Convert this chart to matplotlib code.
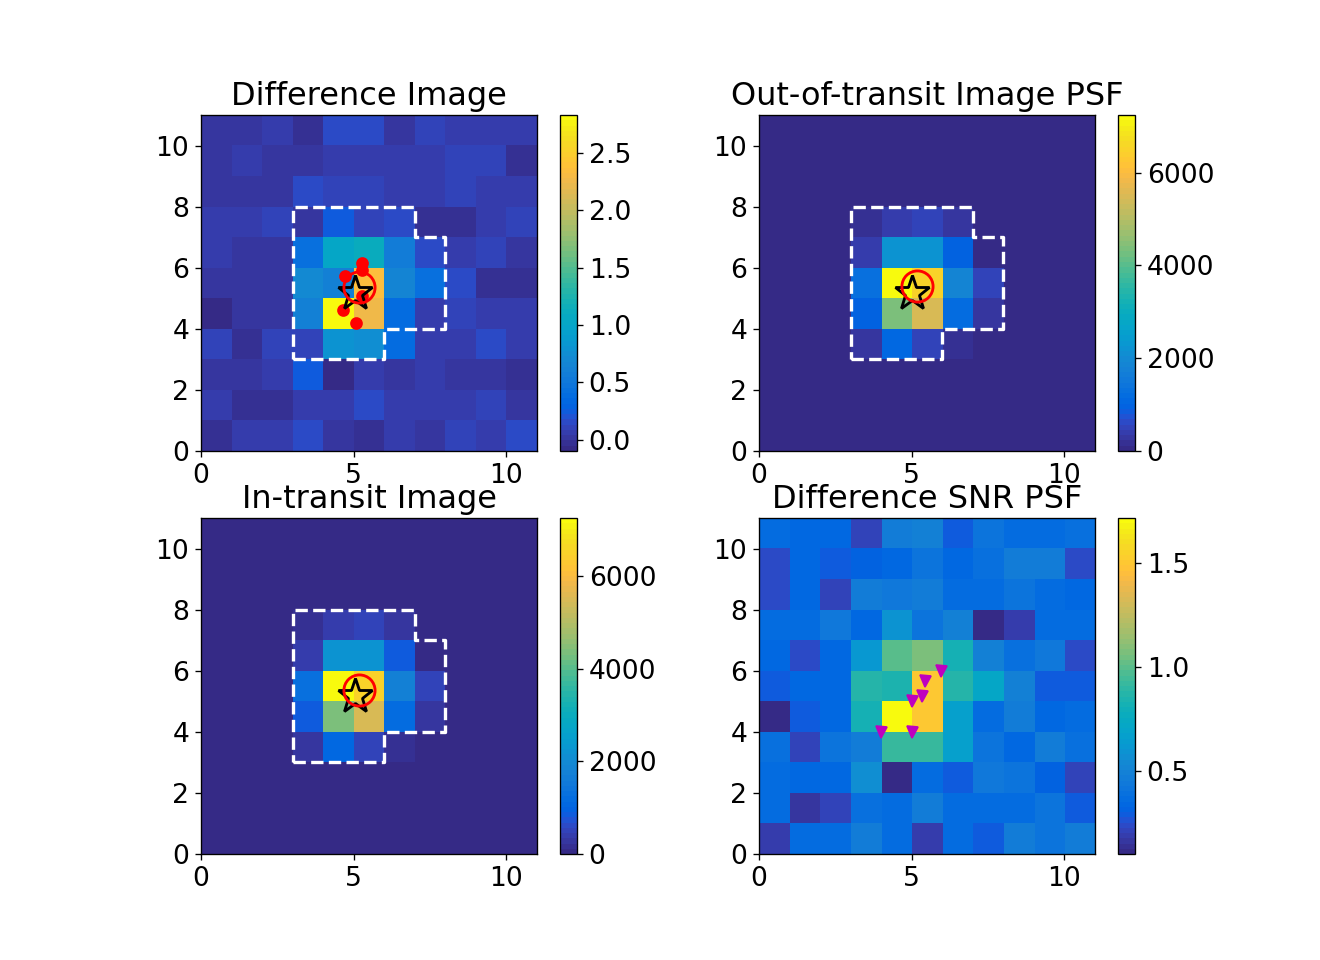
import numpy as np
import matplotlib
matplotlib.use('Agg')
import matplotlib.pyplot as plt
from matplotlib.colors import ListedColormap

# parula, 64 levels
parula = ListedColormap([
    [0.2081,0.1663,0.5292],[0.2116,0.1898,0.5777],[0.2123,0.2138,0.6270],[0.2081,0.2386,0.6771],
    [0.1959,0.2643,0.7279],[0.1707,0.2919,0.7792],[0.1253,0.3242,0.8303],[0.0591,0.3598,0.8683],
    [0.0117,0.3875,0.8820],[0.0060,0.4086,0.8828],[0.0165,0.4266,0.8786],[0.0329,0.4430,0.8720],
    [0.0498,0.4586,0.8641],[0.0629,0.4737,0.8554],[0.0723,0.4887,0.8467],[0.0779,0.5040,0.8384],
    [0.0793,0.5200,0.8312],[0.0749,0.5375,0.8263],[0.0641,0.5570,0.8240],[0.0488,0.5772,0.8228],
    [0.0343,0.5966,0.8199],[0.0265,0.6137,0.8135],[0.0239,0.6287,0.8038],[0.0231,0.6418,0.7913],
    [0.0228,0.6535,0.7768],[0.0267,0.6642,0.7607],[0.0384,0.6743,0.7436],[0.0590,0.6838,0.7254],
    [0.0843,0.6928,0.7062],[0.1133,0.7015,0.6859],[0.1453,0.7098,0.6646],[0.1801,0.7177,0.6424],
    [0.2178,0.7250,0.6193],[0.2586,0.7317,0.5954],[0.3022,0.7376,0.5712],[0.3482,0.7424,0.5473],
    [0.3953,0.7459,0.5244],[0.4420,0.7481,0.5033],[0.4871,0.7491,0.4840],[0.5300,0.7491,0.4661],
    [0.5709,0.7485,0.4494],[0.6099,0.7473,0.4337],[0.6473,0.7456,0.4188],[0.6834,0.7435,0.4044],
    [0.7184,0.7411,0.3905],[0.7525,0.7384,0.3768],[0.7858,0.7356,0.3633],[0.8185,0.7327,0.3498],
    [0.8507,0.7299,0.3360],[0.8824,0.7274,0.3217],[0.9139,0.7258,0.3063],[0.9450,0.7261,0.2886],
    [0.9739,0.7314,0.2666],[0.9938,0.7455,0.2403],[0.9990,0.7653,0.2164],[0.9955,0.7861,0.1967],
    [0.9880,0.8066,0.1794],[0.9789,0.8271,0.1633],[0.9697,0.8481,0.1475],[0.9626,0.8705,0.1309],
    [0.9589,0.8949,0.1132],[0.9598,0.9218,0.0948],[0.9661,0.9514,0.0755],[0.9763,0.9831,0.0538]])

# rows listed top (y=10..11) to bottom (y=0..1)
diff_img = [
    [.033,.018,.047,-.01,.135,.15,.003,.09,.062,.062,.077],
    [.003,.062,.033,.018,.047,.077,.047,.077,.12,.12,-.026],
    [.018,.033,.003,.135,.106,.12,.077,.047,.09,.077,.047],
    [.047,.047,.106,.018,.24,.09,.164,-.05,-.05,.077,.09],
    [.047,.003,.018,.43,1.01,1.10,.575,.135,.077,.09,.003],
    [.018,.018,.018,.69,.60,2.33,.66,.43,.135,-.01,-.01],
    [-.06,.003,.018,.604,2.83,2.24,.37,.062,.09,.077,.062],
    [.09,-.01,.12,.12,.78,.75,.37,.077,.062,.135,.062],
    [.033,.033,.062,.24,-.06,.047,.018,.077,.018,.003,-.01],
    [.047,-.026,-.026,.077,.062,.15,.047,.062,.047,.106,.033],
    [-.026,.047,.047,.135,.033,-.04,.047,.003,.12,.077,.135]]
oot_img = [
    [10,10,10,10,12,12,10,10,10,10,10],
    [10,10,12,20,25,25,20,15,12,10,10],
    [10,12,30,40,45,45,40,30,20,12,10],
    [12,30,40,220,435,505,255,40,30,15,10],
    [12,30,60,435,2170,2170,905,70,50,30,12],
    [12,30,60,1300,7240,6500,1810,505,60,30,12],
    [12,30,60,905,4350,5500,1160,290,55,30,12],
    [10,30,40,325,1090,470,145,60,40,20,10],
    [10,15,30,70,85,45,35,30,20,12,10],
    [10,10,15,20,25,20,15,12,10,10,10],
    [10,10,10,10,12,10,10,10,10,10,10]]
in_img = [
    [10,10,10,10,12,12,10,10,10,10,10],
    [10,10,12,30,35,35,30,15,12,10,10],
    [10,12,30,40,45,45,40,30,20,12,10],
    [12,50,50,220,435,505,255,40,30,15,10],
    [12,50,60,435,2170,2170,905,70,50,30,12],
    [12,50,60,1300,7250,6500,1810,505,60,40,12],
    [12,50,60,905,4350,5500,1160,290,55,40,12],
    [10,50,40,290,1090,470,145,60,40,40,10],
    [10,15,30,70,75,60,55,30,20,12,10],
    [10,10,15,20,25,20,15,12,10,10,10],
    [10,10,10,10,12,10,10,10,10,10,10]]
snr_img = [
    [.36,.33,.34,.21,.455,.49,.28,.41,.36,.36,.39],
    [.24,.35,.30,.32,.34,.41,.34,.39,.455,.455,.24],
    [.245,.35,.22,.47,.44,.455,.37,.36,.42,.37,.33],
    [.36,.37,.44,.33,.60,.41,.49,.11,.19,.36,.37],
    [.34,.24,.33,.62,1.0,1.06,.81,.49,.39,.44,.25],
    [.30,.35,.33,.86,.84,1.5,.86,.71,.49,.30,.30],
    [.11,.28,.33,.81,1.715,1.5,.68,.37,.455,.34,.36],
    [.39,.21,.42,.47,.92,.92,.68,.41,.34,.455,.39],
    [.36,.33,.33,.57,.12,.37,.28,.44,.42,.31,.22],
    [.36,.17,.21,.39,.37,.47,.37,.37,.37,.42,.30],
    [.18,.37,.37,.455,.36,.20,.37,.30,.455,.42,.455]]

titles = ['Difference Image', 'Out-of-transit Image PSF', 'In-transit Image', 'Difference SNR PSF']
images = [diff_img, oot_img, in_img, snr_img]
vmins = [-0.1, 0, 0, 0.1]
vmaxs = [2.83, 7240, 7250, 1.715]
cb_ticks = [[0,0.5,1,1.5,2,2.5], [0,2000,4000,6000], [0,2000,4000,6000], [0.5,1,1.5]]

aper_x = [3,6,6,8,8,7,7,3,3]
aper_y = [3,3,4,4,7,7,8,8,3]
star_x = [5.03, 5.02, 5.03]
star_y = [5.16, 5.17, 5.16]
circ_x = [5.17, 5.18, 5.17]
circ_y = [5.38, 5.40, 5.36]
diff_cx = [5.26, 5.26, 4.70, 5.28, 4.65, 5.08]
diff_cy = [6.15, 5.94, 5.73, 5.07, 4.62, 4.19]
snr_cx = [4.0, 5.0, 5.0, 5.35, 5.44, 5.96]
snr_cy = [4.0, 4.0, 5.0, 5.16, 5.65, 6.0]

W, H = 1320., 960.
lefts = [201, 759, 201, 759]
tops = [115, 115, 518, 518]
side = 336.

plt.rcParams['font.size'] = 16
fig = plt.figure(figsize=(11, 8), dpi=120)
for i in range(4):
    ax = fig.add_axes([lefts[i]/W, 1-(tops[i]+side)/H, side/W, side/H])
    cax = fig.add_axes([(lefts[i]+359)/W, 1-(tops[i]+side)/H, 17/W, side/H])
    im = ax.imshow(np.array(images[i]), cmap=parula, vmin=vmins[i], vmax=vmaxs[i],
                   extent=[0,11,0,11], origin='upper', interpolation='nearest', aspect='auto')
    if i < 3:
        ax.plot(aper_x, aper_y, color='w', ls='--', lw=2)
        ax.plot(star_x[i], star_y[i], marker='*', ms=21.6, mfc='none', mec='k', mew=1.7, ls='none')
        ax.plot(circ_x[i], circ_y[i], marker='o', ms=18.7, mfc='none', mec='r', mew=1.7, ls='none')
    if i == 0:
        ax.plot(diff_cx, diff_cy, 'ro', ms=6.6, zorder=1.5)
    if i == 3:
        ax.plot(snr_cx, snr_cy, 'v', color=(0.75,0,0.75), ms=6.6, ls='none')
    ax.set_xlim(0, 11)
    ax.set_ylim(0, 11)
    ax.set_xticks([0,5,10])
    ax.set_yticks([0,2,4,6,8,10])
    ax.set_title(titles[i])
    cb = fig.colorbar(im, cax=cax)
    cb.set_ticks(cb_ticks[i])

fig.savefig('out.png')
